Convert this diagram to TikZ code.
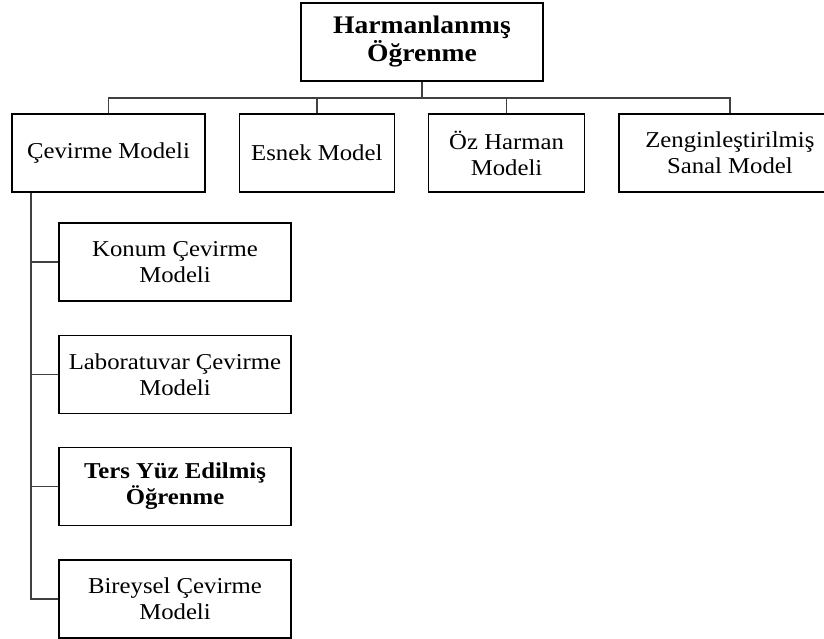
\documentclass[tikz,border=0pt]{standalone}
\usepackage{fontspec}
\setmainfont{Liberation Serif}[FakeStretch=1.09]
\usetikzlibrary{positioning}

\begin{document}
\begin{tikzpicture}
  [
   x=1pt,y=-1pt,
   node distance=33pt and 33pt,
   tb/.style={rectangle,draw,line width=1.3pt,align=center,inner sep=0pt,minimum height=78pt,font=\fontsize{25.3}{28}\selectfont\bfseries},
   mb/.style={rectangle,draw,line width=1.3pt,align=center,inner sep=0pt,minimum height=78pt,font=\fontsize{22.7}{26}\selectfont},
   sb/.style={mb,minimum width=232pt},
   ln/.style={line width=1.4pt,draw=black!75}
  ]
   \clip (0,0) rectangle (824,639);

   \node[tb,minimum width=242pt] (hb) at (422,42) {Harmanlanmış\\Öğrenme};
   \node[mb,minimum width=193pt] (cm) at (108.5,153) {Çevirme Modeli};
   \node[mb,minimum width=155pt] (em) [right=of cm] {Esnek Model};
   \node[mb,minimum width=156pt] (om) [right=of em] {Öz Harman\\Modeli};
   \node[mb,minimum width=222pt] (zm) [right=of om] {Zenginleştirilmiş\\Sanal Model};

   \node[sb] (k1) at (175,262) {Konum Çevirme\\Modeli};
   \node[sb] (k2) [below=of k1] {Laboratuvar Çevirme\\Modeli};
   \node[sb,font=\fontsize{22.7}{26}\selectfont\bfseries] (k3) [below=of k2] {Ters Yüz Edilmiş\\Öğrenme};
   \node[sb] (k4) [below=of k3] {Bireysel Çevirme\\Modeli};

   \coordinate (bar) at (0,98);
   \coordinate (tr) at (31,0);

   \draw[ln] (hb) -- (hb |- bar);
   \draw[ln] (cm) -- (cm |- bar) -- (zm |- bar) -- (zm);
   \draw[ln] (em) -- (em |- bar);
   \draw[ln] (om) -- (om |- bar);

   \draw[ln] (cm.south -| tr) -- (k4 -| tr) -- (k4);
   \foreach \k in {k1,k2,k3}
     \draw[ln] (\k -| tr) -- (\k);

\end{tikzpicture}
\end{document}
